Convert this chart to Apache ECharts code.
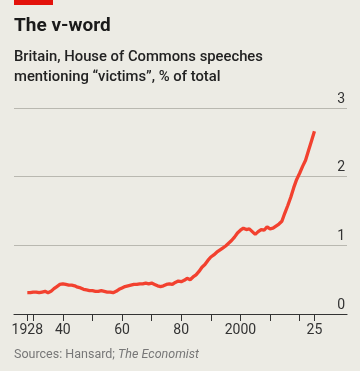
<!DOCTYPE html>
<html>
<head>
<meta charset="utf-8">
<script src="https://cdn.jsdelivr.net/npm/echarts@6/dist/echarts.min.js"></script>
<style>
html,body{margin:0;padding:0;background:#ecebe4;}
#c{width:360px;height:371px;}
</style>
</head>
<body>
<div id="c"></div>
<script>
const years = [];
for (let y = 1928; y <= 2025; y++) years.push(y);
const values = [
  0.31,0.31,0.32,0.32,0.31,0.32,0.33,0.31,0.33,0.37,
  0.40,0.43,0.44,0.43,0.42,0.42,0.41,0.39,0.38,0.36,
  0.35,0.34,0.34,0.33,0.33,0.34,0.33,0.32,0.32,0.31,
  0.33,0.36,0.38,0.40,0.41,0.42,0.43,0.43,0.44,0.44,
  0.45,0.44,0.45,0.43,0.41,0.40,0.41,0.43,0.44,0.43,
  0.46,0.48,0.47,0.49,0.52,0.50,0.54,0.57,0.62,0.68,
  0.72,0.78,0.83,0.86,0.90,0.93,0.96,0.99,1.03,1.07,
  1.12,1.18,1.22,1.25,1.23,1.24,1.20,1.16,1.20,1.23,
  1.22,1.27,1.24,1.25,1.28,1.31,1.35,1.47,1.58,1.70,
  1.84,1.96,2.05,2.15,2.24,2.38,2.52,2.66
];
const xTickValues = [1928,1930,1940,1950,1960,1970,1980,1990,2000,2010,2020,2025];
const xLabelValues = [1928,1940,1960,1980,2000,2025];
const xLabelText = {1928:'1928',1940:'40',1960:'60',1980:'80',2000:'2000',2025:'25'};
const yTicks = [0,1,2,3];

const chart = echarts.init(document.getElementById('c'), null, {renderer:'canvas'});
const font = 'Roboto, "Noto Sans", sans-serif';
chart.setOption({
  backgroundColor:'#ecebe4',
  animation:false,
  graphic:[{type:'rect',left:14,top:0,shape:{width:39,height:5},style:{fill:'#e3120b'}}],
  title:[
    {text:'The v-word',left:14,top:17,padding:0,textStyle:{fontFamily:font,fontWeight:'bold',fontSize:19,color:'#1a1a1a'}},
    {text:'Britain, House of Commons speeches\nmentioning \u201cvictims\u201d, % of total',left:14,top:47,padding:0,
     textStyle:{fontFamily:font,fontWeight:500,fontSize:14.8,lineHeight:20,color:'#222'}},
    {text:'Sources: Hansard; {i|The Economist}',left:14,top:348,padding:0,
     textStyle:{fontFamily:font,fontWeight:'normal',fontSize:12.5,color:'#777',
       rich:{i:{fontFamily:font,fontStyle:'italic',fontSize:12.5,color:'#777'}}}}
  ],
  grid:{left:14,right:13,top:108,bottom:57,containLabel:false},
  xAxis:{type:'value',min:1923.5,max:2036,
    axisLine:{show:true,lineStyle:{color:'#333',width:1.2}},
    axisTick:{show:true,length:7,lineStyle:{color:'#333',width:1},customValues:xTickValues},
    axisLabel:{show:true,customValues:xLabelValues,margin:9,fontFamily:font,fontSize:14,color:'#333',
      formatter:v=>xLabelText[v]||''},
    splitLine:{show:false}},
  yAxis:{type:'value',min:0,max:3,interval:1,position:'right',
    axisLine:{show:false},axisTick:{show:false},
    axisLabel:{inside:true,margin:2,verticalAlign:'bottom',padding:[0,0,2,0],fontFamily:font,fontSize:14,color:'#333'},
    splitLine:{show:true,lineStyle:{color:'#b9b8b0',width:1}}},
  series:[{type:'line',data:years.map((y,i)=>[y,values[i]]),showSymbol:false,
    lineStyle:{color:'#f2412f',width:3.3},z:5}]
});
</script>
</body>
</html>
